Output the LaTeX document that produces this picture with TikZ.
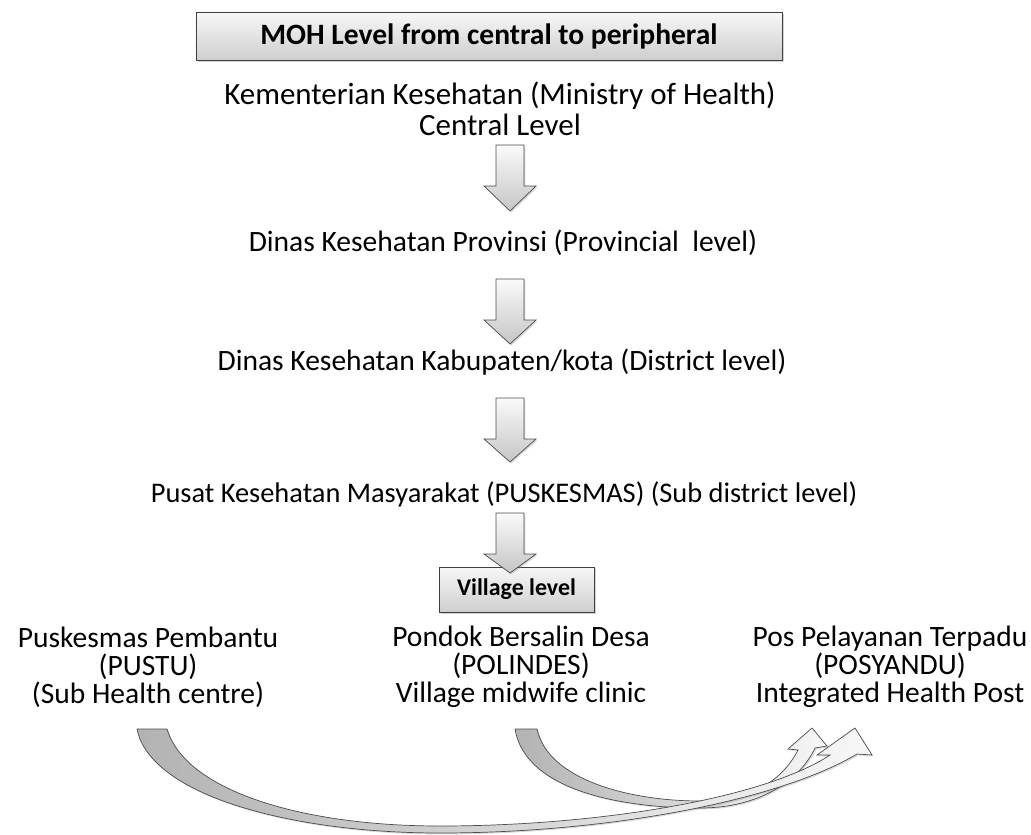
\documentclass[tikz,border=0pt]{standalone}
\usepackage{fontspec}
\setmainfont{Carlito}
\usetikzlibrary{shadows}

\tikzset{
  level/.style={inner sep=0pt,font=\fontsize{21}{20}\selectfont,align=center},
  headbox/.style={draw=black!75,line width=0.6pt,top color=gray!6,bottom color=gray!38,
    drop shadow={opacity=0.35,shadow xshift=1.2pt,shadow yshift=-1.2pt},
    font=\fontsize{21}{24}\selectfont\bfseries,inner sep=0pt},
  blockarr/.style={draw=black!70,line width=0.5pt,top color=gray!4,bottom color=gray!45,
    drop shadow={opacity=0.3,shadow xshift=1pt,shadow yshift=-1pt}},
  curvarr/.style={draw=black!70,line width=0.5pt,left color=gray!60,right color=gray!6,
    drop shadow={opacity=0.3,shadow xshift=1pt,shadow yshift=-1pt}},
  pics/lvlarrow/.style={code={
    \draw[blockarr] (-14,0) -- (14,0) -- (14,41) -- (26,41) -- (0,#1) -- (-26,41) -- (-14,41) -- cycle;}}
}

\begin{document}
\begin{tikzpicture}[x=0.025cm,y=-0.025cm]
  \useasboundingbox (0,0) rectangle (1031,834);
  % titles
  \node[headbox,minimum width=14.65cm,minimum height=1.2cm] (moh) at (489,36) {MOH Level from central to peripheral};
  \node[level,font=\fontsize{22}{20}\selectfont] (kemenkes) at (500,96) {Kementerian Kesehatan (Ministry of Health)};
  \node[level,font=\fontsize{22}{20}\selectfont] (central) at (500,125) {Central Level};
  \node[level] (prov) at (503,243) {Dinas Kesehatan Provinsi (Provincial\ \ level)};
  \node[level] (kab) at (502,362) {Dinas Kesehatan Kabupaten/kota (District level)};
  \node[level,font=\fontsize{20.2}{20}\selectfont] (pusk) at (504,494) {Pusat Kesehatan Masyarakat (PUSKESMAS) (Sub district level)};
  \node[headbox,font=\fontsize{17}{20}\selectfont\bfseries,minimum width=3.875cm,minimum height=1.125cm] (village) at (516.5,589.5) {Village level};
  % village level
  \node[level] (pustu) at (148,667) {Puskesmas Pembantu\\(PUSTU)\\(Sub Health centre)};
  \node[level] (polindes) at (521,667) {Pondok Bersalin Desa\\(POLINDES)\\Village midwife clinic};
  \node[level] (posyandu) at (890,667) {Pos Pelayanan Terpadu\\(POSYANDU)\\Integrated Health Post};
  % arrows between levels
  \pic (arr1) at (510,145) {lvlarrow=66};
  \pic (arr2) at (510,279) {lvlarrow=65};
  \pic (arr3) at (510,398) {lvlarrow=64};
  \pic (arr4) at (510,513) {lvlarrow=60};
  % curved arrows to posyandu
  \coordinate (polT) at (526,729);
  \coordinate (pusT) at (152,729);
  \coordinate (posA) at (812,728);
  \coordinate (posB) at (855,728);
  \draw[curvarr] (515,729) .. controls (525,790) and (620,808) .. (700,808)
    .. controls (760,808) and (800,780) .. (815,748) -- (827,746) -- (posA) -- (788,749) -- (798,750)
    .. controls (780,785) and (745,801) .. (700,801) .. controls (630,801) and (548,780) .. (537,729) -- cycle;
  \draw[curvarr] (137,729) .. controls (150,795) and (290,833) .. (440,833)
    .. controls (610,833) and (780,800) .. (857,754) -- (872,755) -- (posB) -- (817,755) -- (830,755)
    .. controls (765,798) and (600,826) .. (440,826) .. controls (300,826) and (185,790) .. (167,729) -- cycle;
\end{tikzpicture}
\end{document}
